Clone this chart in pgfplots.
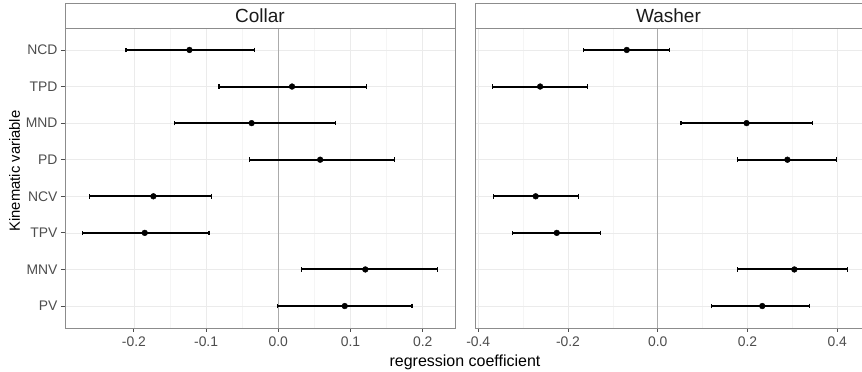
\documentclass[border=0pt]{standalone}
\usepackage{fontspec}
\setmainfont{Liberation Sans}
\usepackage{pgfplots}
\usepackage{pgfplotstable}
\pgfplotsset{compat=1.18}
\definecolor{gridA}{HTML}{EBEBEB}
\definecolor{gridB}{HTML}{F5F5F5}
\definecolor{border}{HTML}{8C8C8C}
\definecolor{ticklab}{HTML}{4D4D4D}
\definecolor{zeroline}{HTML}{ABABAB}
\definecolor{striptext}{HTML}{1A1A1A}
\newcommand\tickfont{\fontsize{13.9}{16}\selectfont}

\pgfplotstableread{
pos est lo hi
8 -0.123 -0.211 -0.033
7 0.019 -0.082 0.122
6 -0.037 -0.144 0.079
5 0.058 -0.040 0.161
4 -0.173 -0.262 -0.092
3 -0.185 -0.2715 -0.096
2 0.1205 0.032 0.2208
1 0.092 -0.0014 0.1852
}\collar

\pgfplotstableread{
pos est lo hi
8 -0.069 -0.166 0.026
7 -0.262 -0.368 -0.156
6 0.198 0.052 0.3455
5 0.289 0.178 0.399
4 -0.272 -0.366 -0.177
3 -0.225 -0.324 -0.128
2 0.3045 0.178 0.4235
1 0.233 0.120 0.338
}\washer

\pgfplotsset{
  panel/.style={
    scale only axis, height=300pt, anchor=south west,
    ymin=0.4, ymax=8.6, ytick={1,...,8},
    tick align=outside, major tick length=4pt, minor tick length=0pt,
    tick style={ticklab, line width=0.8pt},
    grid=both, minor x tick num=1,
    major grid style={gridA, line width=0.7pt},
    minor grid style={gridB, line width=0.6pt},
    ticklabel style={font=\tickfont, text=ticklab},
    xticklabel style={yshift=-1pt},
    axis line style={border, line width=0.8pt},
    clip=false,
  },
  ebar/.style={black, only marks, mark=*, mark size=2.9pt,
    error bars/.cd, x dir=both, x explicit, error mark=|,
    error bar style={line width=2.0pt, black},
    error mark options={line width=1.2pt, mark size=2.3pt, black}},
}

\begin{document}
\begin{tikzpicture}
\path[use as bounding box] (0,0) rectangle (862pt,372pt);

\begin{axis}[panel, at={(65pt,44pt)}, width=390pt,
  xmin=-0.2954, xmax=0.2447,
  xtick={-0.2,-0.1,0,0.1,0.2}, xticklabels={-0.2,-0.1,0.0,0.1,0.2},
  yticklabels={PV,MNV,TPV,NCV,PD,MND,TPD,NCD},
  xtick pos=bottom, ytick pos=left]
  \addplot[zeroline, line width=0.9pt] coordinates {(0,0.4) (0,8.6)};
  \addplot[ebar] table[x=est, y=pos,
    x error plus expr=\thisrow{hi}-\thisrow{est},
    x error minus expr=\thisrow{est}-\thisrow{lo}] {\collar};
  \draw[border, line width=0.8pt, fill=white] (rel axis cs:0,1) rectangle (rel axis cs:1,1.08333);
  \node[font=\fontsize{19}{22}\selectfont, text=striptext] at (rel axis cs:0.5,1.04167) {Collar};
\end{axis}

\begin{axis}[panel, at={(475pt,44pt)}, width=387pt,
  xmin=-0.4072, xmax=0.4553,
  xtick={-0.4,-0.2,0,0.2,0.4}, xticklabels={-0.4,-0.2,0.0,0.2,0.4},
  yticklabels={},
  axis x line*=bottom, axis y line*=left,
  every major y tick/.append style={draw=none}]
  \addplot[zeroline, line width=0.9pt] coordinates {(0,0.4) (0,8.6)};
  \addplot[ebar] table[x=est, y=pos,
    x error plus expr=\thisrow{hi}-\thisrow{est},
    x error minus expr=\thisrow{est}-\thisrow{lo}] {\washer};
  \fill[white] (rel axis cs:0,1) rectangle (rel axis cs:1.01,1.08333);
  \draw[border, line width=0.8pt] (rel axis cs:1.01,1.08333) -- (rel axis cs:0,1.08333) -- (rel axis cs:0,1) -- (rel axis cs:1.01,1);
  \node[font=\fontsize{19}{22}\selectfont, text=striptext] at (rel axis cs:0.5,1.04167) {Washer};
\end{axis}

\node[rotate=90, anchor=base, font=\fontsize{14.8}{17}\selectfont] at (20pt,201pt) {Kinematic variable};
\node[anchor=base, font=\fontsize{16}{19}\selectfont] at (465pt,5.5pt) {regression coefficient};
\end{tikzpicture}
\end{document}
